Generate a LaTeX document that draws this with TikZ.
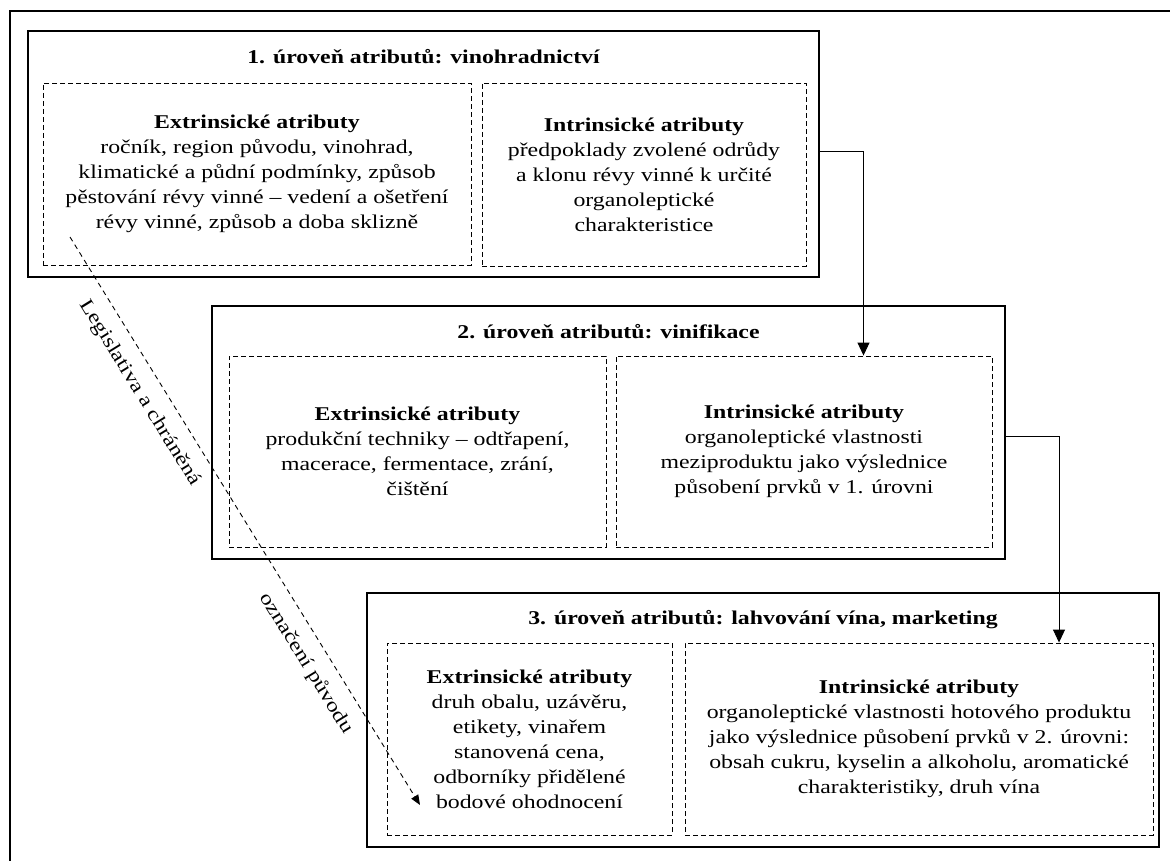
\documentclass[tikz,border=0pt]{standalone}
\usepackage{fontspec}
\setmainfont{Liberation Serif}[FakeStretch=1.22]
\usetikzlibrary{arrows.meta,calc}

\begin{document}
\begin{tikzpicture}[x=1pt,y=-1pt,
  txt/.style={font=\fontsize{19.5}{25}\selectfont, align=center},
  ttl/.style={font=\fontsize{19.5}{25}\selectfont\bfseries, align=center, inner sep=0pt},
  level/.style={draw, line width=2.6pt, inner sep=0pt},
  attrbox/.style={draw, dash pattern=on 5pt off 3pt, line width=0.9pt, inner sep=0pt, txt},
  conn/.style={line width=0.9pt, -{Triangle[length=13pt,width=12pt]}},
  legal/.style={line width=0.9pt, dash pattern=on 5pt off 4pt, -{Triangle[length=10pt,width=8pt]}},
  lbl/.style={txt, sloped, inner sep=0pt, below=13pt},
]
\useasboundingbox (0,0) rectangle (1170,861);

% outer frame
\draw[line width=1.4pt] (10,861) -- (10,11) -- (1170,11);

% level frames
\node[level, minimum width=791pt, minimum height=246pt] (b1) at (423.5,154) {};
\node[level, minimum width=793pt, minimum height=253pt] (b2) at (608.5,432.5) {};
\node[level, minimum width=792pt, minimum height=254pt] (b3) at (763,720) {};

% level titles
\node[ttl] (t1) at (423.5,57) {1. úroveň atributů: vinohradnictví};
\node[ttl] (t2) at (608.5,332) {2. úroveň atributů: vinifikace};
\node[ttl] (t3) at (763,620) {3. úroveň atributů: lahvování vína, marketing};

% attribute boxes
\node[attrbox, minimum width=428pt, minimum height=182pt] (e1) at (257,174)
  {\textbf{Extrinsické atributy}\\ročník, region původu, vinohrad,\\klimatické a půdní podmínky, způsob\\pěstování révy vinné – vedení a ošetření\\révy vinné, způsob a doba sklizně};
\node[attrbox, minimum width=324pt, minimum height=183pt] (i1) at (644,174.5)
  {\textbf{Intrinsické atributy}\\předpoklady zvolené odrůdy\\a klonu révy vinné k určité\\organoleptické\\charakteristice};

\node[attrbox, minimum width=377pt, minimum height=191pt] (e2) at (417.5,451.5)
  {\textbf{Extrinsické atributy}\\produkční techniky – odtřapení,\\macerace, fermentace, zrání,\\čištění};
\node[attrbox, minimum width=376pt, minimum height=191pt] (i2) at (804,451.5)
  {\textbf{Intrinsické atributy}\\organoleptické vlastnosti\\meziproduktu jako výslednice\\působení prvků v 1. úrovni};

\node[attrbox, minimum width=285pt, minimum height=192pt] (e3) at (529.5,739)
  {\textbf{Extrinsické atributy}\\druh obalu, uzávěru,\\etikety, vinařem\\stanovená cena,\\odborníky přidělené\\bodové ohodnocení};
\node[attrbox, minimum width=468pt, minimum height=192pt] (i3) at (919,739)
  {\textbf{Intrinsické atributy}\\organoleptické vlastnosti hotového produktu\\jako výslednice působení prvků v 2. úrovni:\\obsah cukru, kyselin a alkoholu, aromatické\\charakteristiky, druh vína};

% flow between levels
\draw[conn] ([yshift=3pt]b1.east) -| ($(i2.north)+(59.5,0)$);
\draw[conn] ([yshift=-3.5pt]b2.east) -| ($(i3.north)+(140,0)$);

% legislation arrow
\coordinate (ls) at (70,237);
\coordinate (le) at (420,805);
\draw[legal] (ls) -- (le)
  node[lbl, pos=0.254] (lab1) {Legislativa a chráněná}
  node[lbl, pos=0.73] (lab2) {označení původu};
\end{tikzpicture}
\end{document}
